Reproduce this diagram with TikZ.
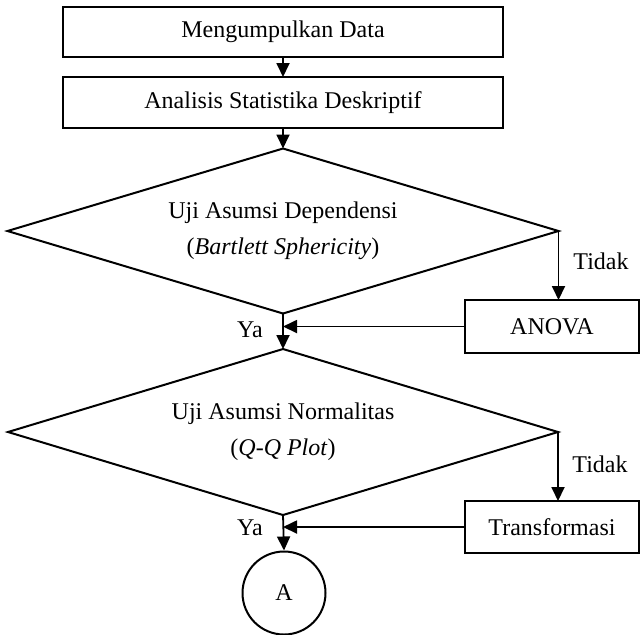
\documentclass[tikz,border=0pt]{standalone}
\usepackage{fontspec}
\setmainfont{Liberation Serif}
\usetikzlibrary{shapes.geometric,arrows.meta}
\begin{document}
\begin{tikzpicture}[x=0.5pt,y=-0.5pt,
  every node/.style={font=\fontsize{12}{18}\selectfont},
  procbox/.style={draw, line width=1pt, rectangle, inner sep=0pt, outer sep=0pt},
  decision/.style={draw, line width=1pt, diamond, inner sep=0pt, outer sep=0pt, shape aspect=3.34, align=center},
  conn/.style={line width=0.9pt, -{Triangle[length=7pt,width=6.5pt]}},
  lbl/.style={inner sep=0pt}]
\useasboundingbox (0,0) rectangle (641,634);
\node[procbox, minimum width=220pt, minimum height=25pt] (b1) at (283,32) {Mengumpulkan Data};
\node[procbox, minimum width=220pt, minimum height=25.5pt] (b2) at (283,102.5) {Analisis Statistika Deskriptif};
\node[decision, minimum width=275.5pt, minimum height=82.5pt] (d1) at (283,231) {Uji Asumsi Dependensi\\(\textit{Bartlett Sphericity})};
\node[procbox, minimum width=87pt, minimum height=26.5pt] (anova) at (552,326.5) {ANOVA};
\node[decision, minimum width=275pt, minimum height=83pt] (d2) at (283,432) {Uji Asumsi Normalitas\\(\textit{Q-Q Plot})};
\node[procbox, minimum width=87pt, minimum height=26pt] (trans) at (552,527) {Transformasi};
\node[draw, circle, line width=1pt, minimum size=41.5pt, inner sep=0pt] (a) at (284,593) {A};
\node[lbl] (t1) at (601,261) {Tidak};
\node[lbl] (y1) at (250,330) {Ya};
\node[lbl] (t2) at (600,464) {Tidak};
\node[lbl] (y2) at (250,528) {Ya};
\draw[conn] (b1) -- (b2);
\draw[conn] (b2) -- (d1);
\draw[conn] (d1.east) -- (d1.east |- anova.north);
\draw[conn] (anova.west) -- (anova.west -| d1.south);
\draw[conn] (d1.south) -- (d2.north);
\draw[conn] (d2.east) -- (d2.east |- trans.north);
\draw[conn] (trans.west) -- (trans.west -| d2.south);
\draw[conn] (d2.south) -- (a.north);
\end{tikzpicture}
\end{document}
